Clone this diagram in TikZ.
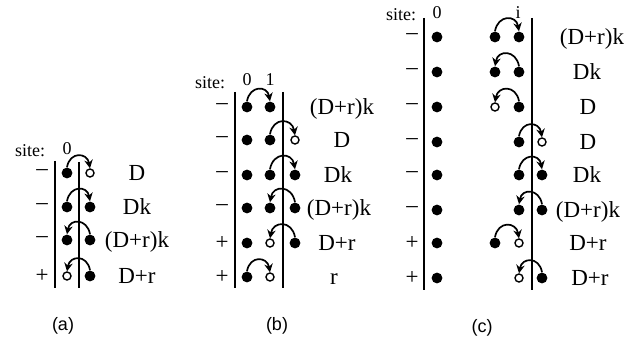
\documentclass[tikz,border=0pt]{standalone}
\usepackage{fontspec}
\setmainfont{Liberation Serif}
\newfontfamily\capfont{Liberation Sans}
\usetikzlibrary{arrows.meta}

\tikzset{
  occ/.style={circle,fill,inner sep=0pt,minimum size=5.4pt},
  vac/.style={circle,draw,line width=.7pt,inner sep=0pt,minimum size=4pt},
  hop/.style={line width=.85pt,-{Stealth[length=4.2pt,width=4.2pt]},looseness=1.8},
  wall/.style={line width=1pt},
  sgn/.style={font=\fontsize{11.5}{13}\selectfont,inner sep=1pt},
  rate/.style={font=\fontsize{11.5}{13}\selectfont,text height=7.6pt,text depth=0pt},
  sitelbl/.style={font=\fontsize{9}{10}\selectfont,inner sep=1pt},
  panellbl/.style={font=\capfont\fontsize{9}{10}\selectfont}
}

\begin{document}
\begin{tikzpicture}[x=0.5pt,y=-0.5pt]
\useasboundingbox (0,0) rectangle (637,341);

% (a)
\coordinate (aLt) at (55,161);  \coordinate (aLb) at (55,288);
\coordinate (aMt) at (79,162);  \coordinate (aMb) at (79,288);
\draw[wall] (aLt) -- (aLb);
\draw[wall] (aMt) -- (aMb);
\node[sitelbl] (asite) at (30,151) {site:};
\node[sitelbl] (a0)    at (67,149) {0};

\node[sgn] (as1) at (42,173) {–};
\node[occ] (a1l) at (67,173) {};
\node[vac] (a1r) at (90,173) {};
\node[rate] (ar1) at (137,173) {D};
\draw[hop] (a1l.north) to[out=80,in=100] (a1r.north);

\node[sgn] (as2) at (42,207) {–};
\node[occ] (a2l) at (67,207) {};
\node[occ] (a2r) at (90,207) {};
\node[rate] (ar2) at (137,207) {Dk};
\draw[hop] (a2l.north) to[out=80,in=100] (a2r.north);

\node[sgn] (as3) at (42,240) {–};
\node[occ] (a3l) at (67,240) {};
\node[occ] (a3r) at (90,240) {};
\node[rate] (ar3) at (137,240) {(D+r)k};
\draw[hop] (a3r.north) to[out=100,in=80] (a3l.north);

\node[sgn] (as4) at (42,276) {+};
\node[vac] (a4l) at (67,276) {};
\node[occ] (a4r) at (90,276) {};
\node[rate] (ar4) at (137,276) {D+r};
\draw[hop] (a4r.north) to[out=100,in=80] (a4l.north);

\node[panellbl] (alab) at (63,326) {(a)};

% (b)
\coordinate (bLt) at (235,92);  \coordinate (bLb) at (235,288);
\coordinate (bRt) at (283,92);  \coordinate (bRb) at (283,288);
\draw[wall] (bLt) -- (bLb);
\draw[wall] (bRt) -- (bRb);
\node[sitelbl] (bsite) at (210,83) {site:};
\node[sitelbl] (b0)    at (247,80) {0};
\node[sitelbl] (b1)    at (270,80) {1};

\node[sgn] (bs1) at (222,107) {–};
\node[occ] (b1a) at (247,107) {};
\node[occ] (b1b) at (270,107) {};
\node[rate] (br1) at (342,107) {(D+r)k};
\draw[hop] (b1a.north) to[out=80,in=100] (b1b.north);

\node[sgn] (bs2) at (222,140) {–};
\node[occ] (b2a) at (247,140) {};
\node[occ] (b2b) at (270,140) {};
\node[vac] (b2c) at (295,140) {};
\node[rate] (br2) at (342,140) {D};
\draw[hop] (b2b.north) to[out=80,in=100] (b2c.north);

\node[sgn] (bs3) at (222,175) {–};
\node[occ] (b3a) at (247,175) {};
\node[occ] (b3b) at (270,175) {};
\node[occ] (b3c) at (295,175) {};
\node[rate] (br3) at (338,175) {Dk};
\draw[hop] (b3b.north) to[out=80,in=100] (b3c.north);

\node[sgn] (bs4) at (222,208) {–};
\node[occ] (b4a) at (247,208) {};
\node[occ] (b4b) at (270,208) {};
\node[occ] (b4c) at (295,208) {};
\node[rate] (br4) at (339,208) {(D+r)k};
\draw[hop] (b4c.north) to[out=100,in=80] (b4b.north);

\node[sgn] (bs5) at (222,243) {+};
\node[occ] (b5a) at (247,243) {};
\node[vac] (b5b) at (270,243) {};
\node[occ] (b5c) at (295,243) {};
\node[rate] (br5) at (337,243) {D+r};
\draw[hop] (b5c.north) to[out=100,in=80] (b5b.north);

\node[sgn] (bs6) at (222,277) {+};
\node[occ] (b6a) at (247,277) {};
\node[vac] (b6b) at (270,277) {};
\node[rate] (br6) at (334,277) {r};
\draw[hop] (b6a.north) to[out=80,in=100] (b6b.north);

\node[panellbl] (blab) at (277,326) {(b)};

% (c)
\coordinate (cLt) at (424,18);  \coordinate (cLb) at (424,290);
\coordinate (cRt) at (532,18);  \coordinate (cRb) at (532,290);
\draw[wall] (cLt) -- (cLb);
\draw[wall] (cRt) -- (cRb);
\node[sitelbl] (csite) at (401,15) {site:};
\node[sitelbl] (c0)    at (437,13) {0};
\node[sitelbl] (ci)    at (518,13) {i};

\node[sgn] (cs1) at (412,37) {–};
\node[occ] (c1a) at (437,37) {};
\node[occ] (c1b) at (495,37) {};
\node[occ] (c1c) at (519,37) {};
\node[rate] (cr1) at (592,37) {(D+r)k};
\draw[hop] (c1b.north) to[out=80,in=100] (c1c.north);

\node[sgn] (cs2) at (412,72) {–};
\node[occ] (c2a) at (437,72) {};
\node[occ] (c2b) at (495,72) {};
\node[occ] (c2c) at (519,72) {};
\node[rate] (cr2) at (587,72) {Dk};
\draw[hop] (c2c.north) to[out=100,in=80] (c2b.north);

\node[sgn] (cs3) at (412,107) {–};
\node[occ] (c3a) at (437,107) {};
\node[vac] (c3b) at (495,107) {};
\node[occ] (c3c) at (519,107) {};
\node[rate] (cr3) at (588,107) {D};
\draw[hop] (c3c.north) to[out=100,in=80] (c3b.north);

\node[sgn] (cs4) at (412,142) {–};
\node[occ] (c4a) at (437,142) {};
\node[occ] (c4c) at (519,142) {};
\node[vac] (c4d) at (542,142) {};
\node[rate] (cr4) at (588,142) {D};
\draw[hop] (c4c.north) to[out=80,in=100] (c4d.north);

\node[sgn] (cs5) at (412,175) {–};
\node[occ] (c5a) at (437,175) {};
\node[occ] (c5c) at (519,175) {};
\node[occ] (c5d) at (542,175) {};
\node[rate] (cr5) at (587,175) {Dk};
\draw[hop] (c5c.north) to[out=80,in=100] (c5d.north);

\node[sgn] (cs6) at (412,210) {–};
\node[occ] (c6a) at (437,210) {};
\node[occ] (c6c) at (519,210) {};
\node[occ] (c6d) at (542,210) {};
\node[rate] (cr6) at (588,210) {(D+r)k};
\draw[hop] (c6d.north) to[out=100,in=80] (c6c.north);

\node[sgn] (cs7) at (412,243) {+};
\node[occ] (c7a) at (437,243) {};
\node[occ] (c7b) at (495,243) {};
\node[vac] (c7c) at (519,243) {};
\node[rate] (cr7) at (588,243) {D+r};
\draw[hop] (c7b.north) to[out=80,in=100] (c7c.north);

\node[sgn] (cs8) at (412,278) {+};
\node[occ] (c8a) at (437,278) {};
\node[vac] (c8c) at (519,278) {};
\node[occ] (c8d) at (542,278) {};
\node[rate] (cr8) at (590,278) {D+r};
\draw[hop] (c8d.north) to[out=100,in=80] (c8c.north);

\node[panellbl] (clab) at (482,328) {(c)};
\end{tikzpicture}
\end{document}
